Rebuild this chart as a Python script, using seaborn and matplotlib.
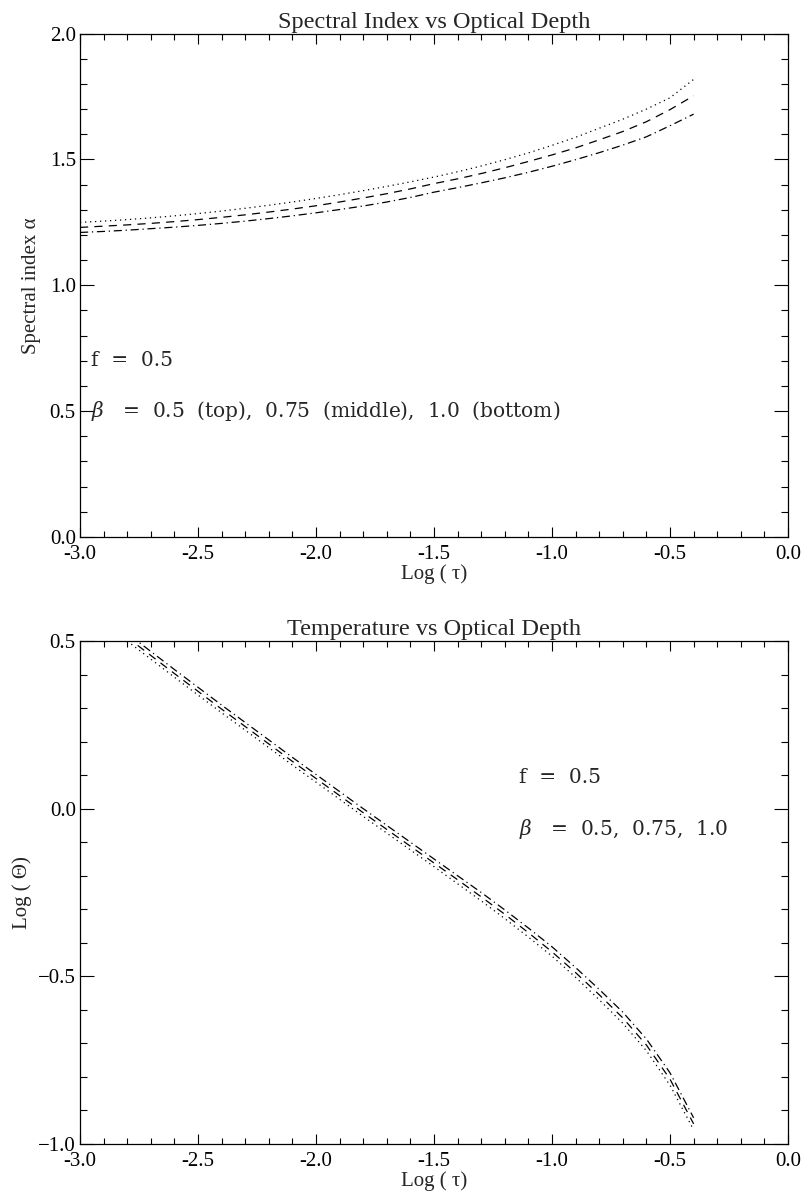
import numpy as np
import pandas as pd
import matplotlib
matplotlib.use("Agg")
import matplotlib.pyplot as plt
from matplotlib.ticker import MultipleLocator, FuncFormatter
import seaborn as sns

# ---- data -------------------------------------------------------------
log_tau = [-3.0, -2.9, -2.8, -2.7, -2.6, -2.5, -2.4, -2.3, -2.2, -2.1,
           -2.0, -1.9, -1.8, -1.7, -1.6, -1.5, -1.4, -1.3, -1.2, -1.1,
           -1.0, -0.9, -0.8, -0.7, -0.6, -0.5, -0.4]

# spectral index alpha for beta = 0.5, 0.75, 1.0
alpha_b050 = [1.250, 1.255, 1.261, 1.268, 1.276, 1.285, 1.295, 1.306, 1.318, 1.331,
              1.345, 1.360, 1.376, 1.393, 1.411, 1.430, 1.451, 1.474, 1.499, 1.526,
              1.556, 1.588, 1.624, 1.660, 1.700, 1.745, 1.818]
alpha_b075 = [1.230, 1.235, 1.240, 1.246, 1.253, 1.261, 1.270, 1.280, 1.291, 1.303,
              1.316, 1.331, 1.347, 1.364, 1.383, 1.404, 1.423, 1.444, 1.467, 1.492,
              1.518, 1.546, 1.578, 1.611, 1.650, 1.698, 1.753]
alpha_b100 = [1.210, 1.214, 1.219, 1.225, 1.231, 1.238, 1.246, 1.255, 1.265, 1.276,
              1.288, 1.301, 1.315, 1.331, 1.349, 1.370, 1.388, 1.407, 1.427, 1.449,
              1.473, 1.499, 1.527, 1.557, 1.590, 1.634, 1.680]

# log temperature for beta = 0.5, 0.75, 1.0
theta_tau = log_tau[1:]
logtheta_b050 = [0.555, 0.500, 0.446, 0.392, 0.339, 0.286, 0.234, 0.182, 0.130,
                 0.079, 0.028, -0.023, -0.073, -0.123, -0.173, -0.224, -0.275, -0.328,
                 -0.383, -0.440, -0.503, -0.570, -0.640, -0.722, -0.825, -0.958]
logtheta_b075 = [0.566, 0.511, 0.457, 0.403, 0.350, 0.297, 0.245, 0.193, 0.141,
                 0.090, 0.039, -0.012, -0.062, -0.112, -0.162, -0.212, -0.263, -0.315,
                 -0.370, -0.427, -0.489, -0.555, -0.624, -0.705, -0.807, -0.940]
logtheta_b100 = [0.578, 0.523, 0.469, 0.415, 0.362, 0.309, 0.257, 0.205, 0.153,
                 0.102, 0.051, 0.000, -0.050, -0.100, -0.150, -0.200, -0.250, -0.302,
                 -0.356, -0.412, -0.474, -0.539, -0.607, -0.687, -0.788, -0.922]

betas = ["0.5", "0.75", "1.0"]

alpha_df = pd.concat([
    pd.DataFrame({"logtau": log_tau, "val": v, "beta": b})
    for v, b in zip([alpha_b050, alpha_b075, alpha_b100], betas)
])
theta_df = pd.concat([
    pd.DataFrame({"logtau": theta_tau, "val": v, "beta": b})
    for v, b in zip([logtheta_b050, logtheta_b075, logtheta_b100], betas)
])

# ---- style ------------------------------------------------------------
sns.set_style("ticks")
plt.rcParams["font.family"] = ["Liberation Serif", "DejaVu Serif"]
plt.rcParams["mathtext.fontset"] = "dejavuserif"
plt.rcParams["axes.unicode_minus"] = False

line_dashes = {"0.5": (1, 3), "0.75": (6.5, 5), "1.0": (6.5, 3, 1, 3)}
LW = 0.9

fig = plt.figure(figsize=(8.06, 12.0), dpi=100)
ax1 = fig.add_axes([0.0993, 0.5525, 0.8784, 0.4195])
ax2 = fig.add_axes([0.0993, 0.0467, 0.8784, 0.4191])

for ax, df in [(ax1, alpha_df), (ax2, theta_df)]:
    sns.lineplot(data=df, x="logtau", y="val", style="beta", dashes=line_dashes,
                 color="black", linewidth=LW, legend=False, ax=ax, sort=False)


def style_axes(ax, ylo, yhi, yfmt):
    ax.set_xlim(-3.0, 0.0)
    ax.set_ylim(ylo, yhi)
    ax.xaxis.set_major_locator(MultipleLocator(0.5))
    ax.xaxis.set_minor_locator(MultipleLocator(0.1))
    ax.yaxis.set_major_locator(MultipleLocator(0.5))
    ax.yaxis.set_minor_locator(MultipleLocator(0.1))
    ax.xaxis.set_major_formatter(FuncFormatter(lambda v, p: f"{v:.1f}"))
    ax.yaxis.set_major_formatter(FuncFormatter(yfmt))
    ax.tick_params(which="both", direction="in", top=True, right=True,
                   color="black", labelsize=15, labelcolor="black", width=0.8)
    ax.tick_params(axis="x", which="major", length=7.5, pad=6)
    ax.tick_params(axis="x", which="minor", length=4)
    ax.tick_params(axis="y", which="major", length=10, pad=3)
    ax.tick_params(axis="y", which="minor", length=5)
    for s in ax.spines.values():
        s.set_color("black")
        s.set_linewidth(0.9)
    ax.set_xlabel("Log ( \u03c4)", fontsize=15, labelpad=0)


style_axes(ax1, 0.0, 2.0, lambda v, p: f"{v:.1f}")
style_axes(ax2, -1.0, 0.5, lambda v, p: f"{v:.1f}".replace("-", "\u2212"))

ax1.set_title("Spectral Index vs Optical Depth", fontsize=17.5, pad=4)
ax2.set_title("Temperature vs Optical Depth", fontsize=17.5, pad=4)
ax1.set_ylabel("Spectral index \u03b1", fontsize=15, labelpad=6)
ax2.set_ylabel("Log ( \u0398)", fontsize=15, labelpad=4)

# parameter notes
note_font = dict(family="DejaVu Serif", fontsize=14.5, va="center", ha="left")
ax1.text(-2.955, 0.70, "f  =  0.5", **note_font)
ax1.text(-2.955, 0.50,
         r"$\beta$   =  0.5  (top),  0.75  (middle),  1.0  (bottom)", **note_font)
ax2.text(-1.14, 0.094, "f  =  0.5", **note_font)
ax2.text(-1.14, -0.061, r"$\beta$   =  0.5,  0.75,  1.0", **note_font)

fig.savefig("out.png", dpi=100, facecolor="white")
